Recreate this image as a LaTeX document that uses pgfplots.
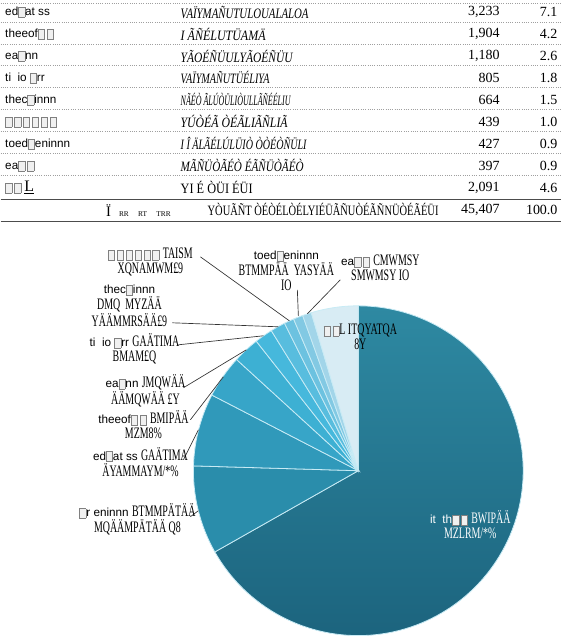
\documentclass[border=0pt]{standalone}
\usepackage{pgfplots}
\pgfplotsset{compat=1.18}
\usepackage{fontspec}
\usepackage{graphicx}
\setmainfont{Liberation Serif}
\setsansfont{Liberation Sans}
\newlength\pxu \setlength\pxu{0.75pt}
\newcommand\tofu{\raisebox{-0.2ex}{\setlength\fboxsep{0pt}\setlength\fboxrule{0.4pt}\fcolorbox{gray}{gray!12}{\rule{0pt}{1.5ex}\hspace{0.5em}}}}
\newcommand\nm[1]{{\sffamily\fontsize{8.8}{10}\selectfont #1}}
\newcommand\g[1]{{\rmfamily\fontsize{12}{12}\selectfont\scalebox{0.62}[1]{#1}}}
\newcommand\md[2]{\resizebox{#1\pxu}{9.2pt}{\rmfamily\itshape #2}}
\newcommand\mdu[2]{\resizebox{#1\pxu}{9.2pt}{\rmfamily #2}}
\newcommand\vl[1]{{\rmfamily\fontsize{10.5}{11}\selectfont #1}}
% slice values (clockwise from 12 o'clock)
\edef\cA{0}
\edef\cB{\fpeval{\cA+30332}}
\edef\cC{\fpeval{\cB+3935}}
\edef\cD{\fpeval{\cC+3233}}
\edef\cE{\fpeval{\cD+1904}}
\edef\cF{\fpeval{\cE+1180}}
\edef\cG{\fpeval{\cF+805}}
\edef\cH{\fpeval{\cG+664}}
\edef\cI{\fpeval{\cH+439}}
\edef\cJ{\fpeval{\cI+427}}
\edef\cK{\fpeval{\cJ+397}}
\edef\cL{\fpeval{\cK+2091}}
\edef\aA{\fpeval{360*\cA/\cL}}
\edef\aB{\fpeval{360*\cB/\cL}}
\edef\aC{\fpeval{360*\cC/\cL}}
\edef\aD{\fpeval{360*\cD/\cL}}
\edef\aE{\fpeval{360*\cE/\cL}}
\edef\aF{\fpeval{360*\cF/\cL}}
\edef\aG{\fpeval{360*\cG/\cL}}
\edef\aH{\fpeval{360*\cH/\cL}}
\edef\aI{\fpeval{360*\cI/\cL}}
\edef\aJ{\fpeval{360*\cJ/\cL}}
\edef\aK{\fpeval{360*\cK/\cL}}
\edef\aL{\fpeval{360*\cL/\cL}}
\definecolor{s0t}{RGB}{46,137,162}
\definecolor{s0b}{RGB}{28,100,126}
\definecolor{s1}{RGB}{42,141,171}
\definecolor{s2}{RGB}{48,153,186}
\definecolor{s3}{RGB}{55,165,200}
\definecolor{s4}{RGB}{61,176,211}
\definecolor{s5}{RGB}{70,184,220}
\definecolor{s6}{RGB}{88,189,222}
\definecolor{s7}{RGB}{108,194,224}
\definecolor{s8}{RGB}{130,201,227}
\definecolor{s9}{RGB}{162,213,233}
\definecolor{s10}{RGB}{216,236,244}
\definecolor{sep}{RGB}{200,235,245}
\begin{document}
\begin{tikzpicture}
\begin{axis}[hide axis, scale only axis, width=420.75pt, height=477pt,
  xmin=0, xmax=561, ymin=0, ymax=636, y dir=reverse, clip=false,
  at={(0,0)}, anchor=south west]
\path (axis cs:0,0) -- (axis cs:561,636);
% ---------- table ----------
\pgfplotsinvokeforeach{3,22,44,66,88,110,132,154,176}{
  \draw[gray!75, densely dotted, line width=0.7pt] (axis cs:0,#1) -- (axis cs:561,#1);}
\draw[black!70, line width=0.8pt] (axis cs:0,200) -- (axis cs:561,200);
\draw[black!70, line width=0.8pt] (axis cs:0,222) -- (axis cs:561,222);
\node[anchor=west] at (axis cs:0,12) {\nm{ed\tofu at ss}};
\node[anchor=west] at (axis cs:0,34) {\nm{theeof\tofu\,\tofu}};
\node[anchor=west] at (axis cs:0,56) {\nm{ea\tofu nn}};
\node[anchor=west] at (axis cs:0,78) {\nm{ti\ \ io \tofu rr}};
\node[anchor=west] at (axis cs:0,100) {\nm{thec\tofu innn}};
\node[anchor=west] at (axis cs:0,122) {\nm{\tofu\,\tofu\,\tofu\,\tofu\,\tofu\,\tofu}};
\node[anchor=west] at (axis cs:0,144) {\nm{toed\tofu eninnn}};
\node[anchor=west] at (axis cs:0,166) {\nm{ea\tofu\,\tofu}};
\node[anchor=west] at (axis cs:0,188) {\nm{\tofu\,\tofu\ {\rmfamily\fontsize{12}{12}\selectfont\underline{L}}}};
\node at (axis cs:138,211) {\rmfamily\fontsize{11}{11}\selectfont \"I\hspace{6pt}{\fontsize{5.5}{6}\selectfont RR\hspace{7pt}RT\hspace{7pt}TRR}};
\node[anchor=west, inner sep=0pt] at (axis cs:180,12) {\md{128}{VA\"IYMA\~NUTULOUALALOA}};
\node[anchor=west, inner sep=0pt] at (axis cs:180,34) {\md{85}{I \~A\~N\'ELUT\"UAM\"A}};
\node[anchor=west, inner sep=0pt] at (axis cs:180,56) {\md{112}{Y\~AO\'E\~N\"UULY\~AO\'E\~N\"UU}};
\node[anchor=west, inner sep=0pt] at (axis cs:180,78) {\md{89}{VA\"IYMA\~NUT\"U\'ELIYA}};
\node[anchor=west, inner sep=0pt] at (axis cs:180,100) {\md{110}{N\~A\'E\`O \~AL\'U\`O\"ULI\`OULL\~A\~N\'E\'ELIU}};
\node[anchor=west, inner sep=0pt] at (axis cs:180,122) {\md{107}{Y\'U\`O\'E\~A \`O\'E\~ALI\~A\~NLI\~A}};
\node[anchor=west, inner sep=0pt] at (axis cs:180,144) {\md{126}{I \^I \"AL\~A\'EL\'UL\"UI\`O \`O\`O\'E\`O\~N\"ULI}};
\node[anchor=west, inner sep=0pt] at (axis cs:180,166) {\md{123}{M\~A\~N\"U\`O\~A\'E\`O \'E\~A\~N\"U\`O\~A\'E\`O}};
\node[anchor=west, inner sep=0pt] at (axis cs:180,188) {\mdu{72}{YI \'E \`O\"UI \'E\"UI}};
\node[anchor=west, inner sep=0pt] at (axis cs:207,210) {\mdu{231}{Y\`OU\~A\~NT \`O\'E\`O\'EL\`O\'ELYI\'E\"U\~A\~NU\`O\'E\~A\~NN\"U\`O\'E\~A\'E\"UI}};
\node[anchor=east] at (axis cs:504,12) {\vl{3,233}};
\node[anchor=east] at (axis cs:504,34) {\vl{1,904}};
\node[anchor=east] at (axis cs:504,56) {\vl{1,180}};
\node[anchor=east] at (axis cs:504,78) {\vl{805}};
\node[anchor=east] at (axis cs:504,100) {\vl{664}};
\node[anchor=east] at (axis cs:504,122) {\vl{439}};
\node[anchor=east] at (axis cs:504,144) {\vl{427}};
\node[anchor=east] at (axis cs:504,166) {\vl{397}};
\node[anchor=east] at (axis cs:504,188) {\vl{2,091}};
\node[anchor=east] at (axis cs:504,210) {\vl{45,407}};
\node[anchor=east] at (axis cs:562,12) {\vl{7.1}};
\node[anchor=east] at (axis cs:562,34) {\vl{4.2}};
\node[anchor=east] at (axis cs:562,56) {\vl{2.6}};
\node[anchor=east] at (axis cs:562,78) {\vl{1.8}};
\node[anchor=east] at (axis cs:562,100) {\vl{1.5}};
\node[anchor=east] at (axis cs:562,122) {\vl{1.0}};
\node[anchor=east] at (axis cs:562,144) {\vl{0.9}};
\node[anchor=east] at (axis cs:562,166) {\vl{0.9}};
\node[anchor=east] at (axis cs:562,188) {\vl{4.6}};
\node[anchor=east] at (axis cs:562,210) {\vl{100.0}};
% ---------- pie ----------
\addplot[draw=sep, line width=0.6pt, top color=s0t, bottom color=s0b, domain=\aA:\aB, samples=120, variable=\t] ({358+165*sin(\t)},{471-165*cos(\t)}) -- (axis cs:358,471) -- cycle;
\addplot[draw=sep, line width=0.6pt, fill=s1, domain=\aB:\aC, samples=30, variable=\t] ({358+165*sin(\t)},{471-165*cos(\t)}) -- (axis cs:358,471) -- cycle;
\addplot[draw=sep, line width=0.6pt, fill=s2, domain=\aC:\aD, samples=30, variable=\t] ({358+165*sin(\t)},{471-165*cos(\t)}) -- (axis cs:358,471) -- cycle;
\addplot[draw=sep, line width=0.6pt, fill=s3, domain=\aD:\aE, samples=20, variable=\t] ({358+165*sin(\t)},{471-165*cos(\t)}) -- (axis cs:358,471) -- cycle;
\addplot[draw=sep, line width=0.6pt, fill=s4, domain=\aE:\aF, samples=15, variable=\t] ({358+165*sin(\t)},{471-165*cos(\t)}) -- (axis cs:358,471) -- cycle;
\addplot[draw=sep, line width=0.6pt, fill=s5, domain=\aF:\aG, samples=10, variable=\t] ({358+165*sin(\t)},{471-165*cos(\t)}) -- (axis cs:358,471) -- cycle;
\addplot[draw=sep, line width=0.6pt, fill=s6, domain=\aG:\aH, samples=10, variable=\t] ({358+165*sin(\t)},{471-165*cos(\t)}) -- (axis cs:358,471) -- cycle;
\addplot[draw=sep, line width=0.6pt, fill=s7, domain=\aH:\aI, samples=8, variable=\t] ({358+165*sin(\t)},{471-165*cos(\t)}) -- (axis cs:358,471) -- cycle;
\addplot[draw=sep, line width=0.6pt, fill=s8, domain=\aI:\aJ, samples=8, variable=\t] ({358+165*sin(\t)},{471-165*cos(\t)}) -- (axis cs:358,471) -- cycle;
\addplot[draw=sep, line width=0.6pt, fill=s9, domain=\aJ:\aK, samples=8, variable=\t] ({358+165*sin(\t)},{471-165*cos(\t)}) -- (axis cs:358,471) -- cycle;
\addplot[draw=sep, line width=0.6pt, fill=s10, domain=\aK:\aL, samples=20, variable=\t] ({358+165*sin(\t)},{471-165*cos(\t)}) -- (axis cs:358,471) -- cycle;
% leaders
\draw[black!80, line width=0.5pt] (axis cs:200,257) -- (axis cs:289,321);
\draw[black!80, line width=0.5pt] (axis cs:172,323) -- (axis cs:278,327);
\draw[black!80, line width=0.5pt] (axis cs:178,345) -- (axis cs:263,336);
\draw[black!80, line width=0.5pt] (axis cs:183,388) -- (axis cs:246,350);
\draw[black!80, line width=0.5pt] (axis cs:190,420) -- (axis cs:223,377);
\draw[black!80, line width=0.5pt] (axis cs:183,460) -- (axis cs:198,430);
\draw[black!80, line width=0.5pt] (axis cs:190,517) -- (axis cs:198,511);
\draw[black!80, line width=0.5pt] (axis cs:297,290) -- (axis cs:298,316);
\draw[black!80, line width=0.5pt] (axis cs:340,280) -- (axis cs:307,314);
% labels
\tikzset{pl/.style={align=center, inner sep=0pt, font=\fontsize{10}{11}\selectfont}}
\node[pl] at (axis cs:150,262) {\nm{\tofu\,\tofu\,\tofu\,\tofu\,\tofu\,\tofu} \g{TAISM}\\ \g{XQNAMWM\pounds9}};
\node[pl] at (axis cs:129,306) {\nm{thec\tofu innn}\\ \g{DMQ\ \ MYZ\"A\"A}\\ \g{Y\"A\"AMMRS\"A\"A\pounds9}};
\node[pl] at (axis cs:134,349) {\nm{ti\ \ io \tofu rr} \g{GA\"ATIMA}\\ \g{BMAM\pounds Q}};
\node[pl] at (axis cs:145,391) {\nm{ea\tofu nn} \g{JMQW\"A\"A}\\ \g{\"A\"AMQW\"A\"A \pounds Y}};
\node[pl] at (axis cs:143,425) {\nm{theeof\tofu\,\tofu} \g{BMIP\"A\"A}\\ \g{MZM8\%}};
\node[pl] at (axis cs:140,462) {\nm{ed\tofu at ss} \g{GA\"ATIMA}\\ \g{\"AYAMMAYM/*\%}};
\node[pl] at (axis cs:137,520) {\nm{\tofu r eninnn} \g{BTMMP\"AT\"A\"A}\\ \g{MQ\"A\"AMP\"AT\"A\"A Q8}};
\node[pl] at (axis cs:286,271) {\nm{toed\tofu eninnn}\\ \g{BTMMP\"A\"A\ \ YASY\"A\"A}\\ \g{IO}};
\node[pl] at (axis cs:380,268) {\nm{ea\tofu\,\tofu} \g{CMWMSY}\\ \g{SMWMSY IO}};
\node[pl] at (axis cs:360,337) {\nm{\tofu\,\tofu}\g{L ITQYATQA}\\ \g{8Y}};
\node[pl, text=white] at (axis cs:470,525) {\nm{it\ \ th\tofu\,\tofu} \g{BWIP\"A\"A}\\ \g{MZLRM/*\%}};
\end{axis}
\end{tikzpicture}
\end{document}
